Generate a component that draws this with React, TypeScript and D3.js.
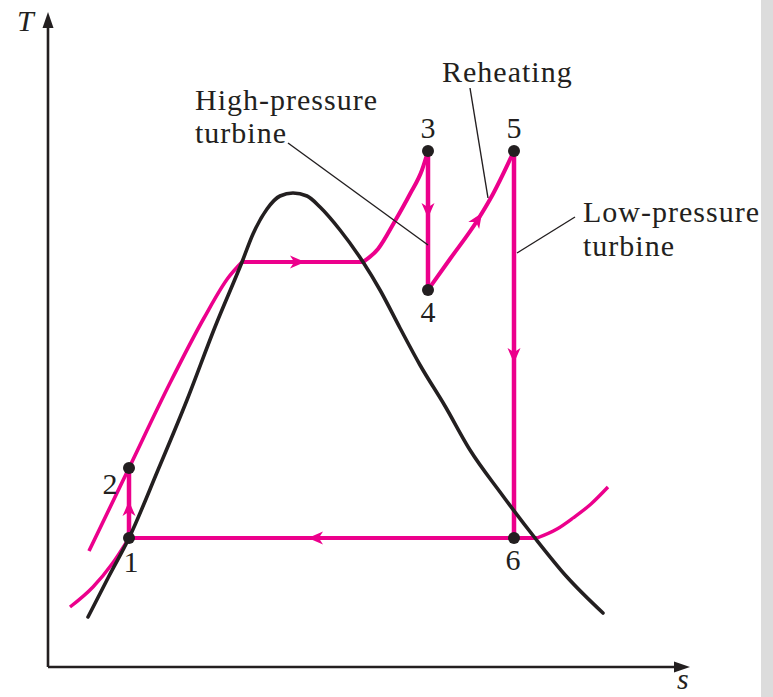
import React from 'react';
import * as d3 from 'd3';

type P = [number, number];

// ---- Data (entropy s, temperature T in arbitrary diagram units) ----
const dome: P[] = [
  [4.0, 5.0], [6.0, 8.9], [8.1, 12.9], [11.0, 19.7], [13.9, 26.7], [16.7, 34.0],
  [19.4, 40.5], [20.5, 43.3], [21.9, 45.8], [23.2, 47.1], [24.5, 47.4], [25.9, 47.1],
  [27.2, 46.0], [29.2, 43.7], [31.5, 40.5], [33.2, 37.7], [35.2, 33.9], [37.2, 30.2],
  [39.7, 26.1], [42.2, 21.7], [45.2, 17.5], [48.7, 12.9], [51.9, 9.0], [55.5, 5.4],
];
const hpLiquid: P[] = [[4.1, 11.6], [8.1, 19.9], [12.2, 28.4], [15.6, 34.9], [18.0, 38.9], [19.4, 40.5]];
const hpBoil: P[] = [[19.4, 40.5], [31.5, 40.5]];
const hpSuper: P[] = [[31.5, 40.5], [33.0, 41.8], [34.7, 44.6], [36.2, 47.3], [37.4, 49.7], [38.0, 51.6]];
const reheat: P[] = [[38.0, 37.7], [40.2, 40.8], [42.9, 44.6], [44.5, 47.3], [46.6, 51.6]];
const lpLeft: P[] = [[2.2, 6.0], [4.5, 8.0], [6.4, 10.3], [8.1, 12.9]];
const lpCondense: P[] = [[48.9, 12.9], [8.1, 12.9]];
const lpRight: P[] = [[48.9, 12.9], [50.9, 13.8], [52.5, 14.9], [54.3, 16.3], [56.0, 18.0]];
const pump: P[] = [[8.1, 12.9], [8.1, 19.9]];
const hpTurbine: P[] = [[38.0, 51.6], [38.0, 37.7]];
const lpTurbine: P[] = [[46.6, 51.6], [46.6, 12.9]];

const stateIds = ['1', '2', '3', '4', '5', '6'];
const stateS = [8.1, 8.1, 38.0, 38.0, 46.6, 46.6];
const stateT = [12.9, 19.9, 51.6, 37.7, 51.6, 12.9];

// arrow tips and directions (ds, dT)
const arrowTips: P[] = [[8.1, 16.6], [25.7, 40.5], [38.0, 44.9], [43.4, 45.4], [46.6, 30.4], [26.0, 12.9]];
const arrowDirs: P[] = [[0, 1], [1, 0], [0, -1], [0.55, 0.83], [0, -1], [-1, 0]];

const leaderFrom: P[] = [[24.0, 52.4], [42.2, 57.9], [52.7, 45.0]];
const leaderTo: P[] = [[38.0, 42.2], [44.0, 46.9], [46.9, 41.4]];

const PINK = '#EC008C';
const FONT = '"Liberation Serif", "Times New Roman", serif';

export default function App() {
  const x = d3.scaleLinear().domain([0, 64]).range([48, 688]);
  const y = d3.scaleLinear().domain([0, 64]).range([667, 27]);
  const curve = d3.line<P>().x(d => x(d[0])).y(d => y(d[1])).curve(d3.curveMonotoneX);
  const straight = d3.line<P>().x(d => x(d[0])).y(d => y(d[1]));

  const arrowPath = (tip: P, dir: P) => {
    const tx = x(tip[0]), ty = y(tip[1]);
    let dx = dir[0], dy = -dir[1];
    const n = Math.hypot(dx, dy); dx /= n; dy /= n;
    const L = 15, w = 6.5;
    const bx = tx - L * dx, by = ty - L * dy;
    const nx = -dy, ny = dx;
    const mx = tx - L * 0.72 * dx, my = ty - L * 0.72 * dy;
    return `M${tx},${ty}L${bx + w * nx},${by + w * ny}L${mx},${my}L${bx - w * nx},${by - w * ny}Z`;
  };

  const labelOff: P[] = [[2, 34], [-19, 26], [0, -13], [0, 32], [0, -13], [-1, 32]];

  const axX0 = x(0), axY0 = y(0);
  const textStyle = { fontFamily: FONT, fontSize: 30, letterSpacing: 1, fill: '#231f20' } as const;

  return (
    <svg width={773} height={697} style={{ position: 'absolute', left: 0, top: 0, background: '#fff' }}>
      <rect x={0} y={0} width={773} height={697} fill="#ffffff" />
      <rect x={761} y={0} width={12} height={697} fill="#dcdcdc" />

      {/* axes */}
      <path d={`M${axX0},${axY0}V26`} stroke="#231f20" strokeWidth={2.6} fill="none" />
      <path d={`M${axX0},${axY0}H676`} stroke="#231f20" strokeWidth={2.6} fill="none" />
      <path d={`M${axX0},12L${axX0 - 5.5},28L${axX0 + 5.5},28Z`} fill="#231f20" />
      <path d={`M690,${axY0}L674,${axY0 - 5.5}L674,${axY0 + 5.5}Z`} fill="#231f20" />
      <text x={17} y={31} style={{ ...textStyle, fontStyle: 'italic', letterSpacing: 0 }}>T</text>
      <text x={677} y={689} style={{ ...textStyle, fontStyle: 'italic', letterSpacing: 0 }}>s</text>

      {/* pink isobars */}
      <path d={curve(lpLeft)!} stroke={PINK} strokeWidth={3.4} fill="none" />
      <path d={curve(lpRight)!} stroke={PINK} strokeWidth={3.4} fill="none" />
      <path d={curve(hpLiquid)!} stroke={PINK} strokeWidth={3.6} fill="none" />
      <path d={straight(hpBoil)!} stroke={PINK} strokeWidth={4} fill="none" />
      <path d={curve(hpSuper)!} stroke={PINK} strokeWidth={4} fill="none" />
      <path d={curve(reheat)!} stroke={PINK} strokeWidth={4} fill="none" />
      <path d={straight(lpCondense)!} stroke={PINK} strokeWidth={4} fill="none" />
      <path d={straight(pump)!} stroke={PINK} strokeWidth={4.5} fill="none" />
      <path d={straight(hpTurbine)!} stroke={PINK} strokeWidth={4.5} fill="none" />
      <path d={straight(lpTurbine)!} stroke={PINK} strokeWidth={4.5} fill="none" />
      {arrowTips.map((t, i) => (
        <path key={i} d={arrowPath(t, arrowDirs[i])} fill={PINK} />
      ))}

      {/* saturation dome */}
      <path d={curve(dome)!} stroke="#231f20" strokeWidth={3.6} fill="none" strokeLinecap="round" />

      {/* leaders */}
      {leaderFrom.map((f, i) => (
        <line key={i} x1={x(f[0])} y1={y(f[1])} x2={x(leaderTo[i][0])} y2={y(leaderTo[i][1])}
          stroke="#231f20" strokeWidth={1.4} />
      ))}

      {/* state points */}
      {stateIds.map((id, i) => (
        <g key={id}>
          <circle cx={x(stateS[i])} cy={y(stateT[i])} r={6} fill="#231f20" />
          <text x={x(stateS[i]) + labelOff[i][0]} y={y(stateT[i]) + labelOff[i][1]} textAnchor="middle"
            style={{ ...textStyle, letterSpacing: 0 }}>{id}</text>
        </g>
      ))}

      {/* annotations */}
      <text x={195} y={110} style={textStyle}>High-pressure</text>
      <text x={195} y={143} style={textStyle}>turbine</text>
      <text x={442} y={82} style={textStyle}>Reheating</text>
      <text x={583} y={222} style={textStyle}>Low-pressure</text>
      <text x={583} y={256} style={textStyle}>turbine</text>
    </svg>
  );
}
